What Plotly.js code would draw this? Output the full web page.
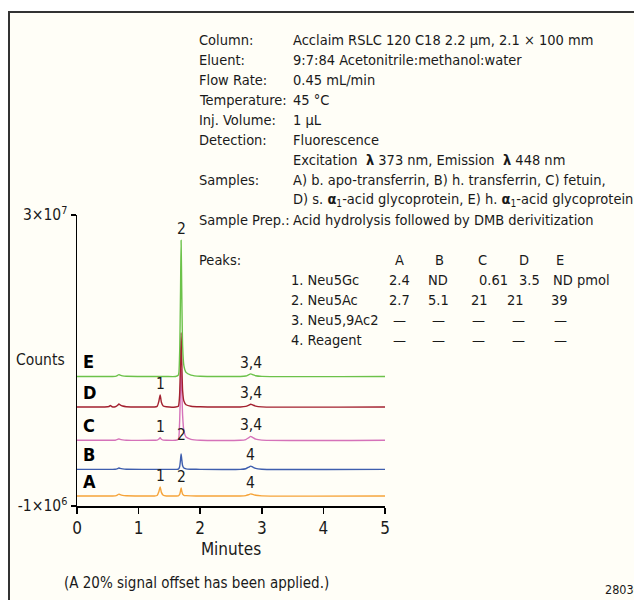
<!DOCTYPE html>
<html>
<head>
<meta charset="utf-8">
<script src="https://cdn.plot.ly/plotly-3.0.1.min.js"></script>
<style>html,body{margin:0;padding:0;background:#fff;}#chart{width:634px;height:600px;}</style>
</head>
<body>
<div id="chart"></div>
<script>
// ---------------- DATA ----------------
// retention time axis (minutes)
var times = [0.00,0.45,0.52,0.54,0.57,0.62,0.66,0.68,0.70,0.74,0.80,1.25,1.30,1.33,1.35,1.37,1.40,1.45,
             1.60,1.645,1.665,1.68,1.69,1.70,1.715,1.735,1.77,1.85,2.00,2.65,2.74,2.79,2.82,2.85,2.90,3.00,5.00];
// signals (x10^6 counts) above each trace's own baseline
var sigA = [0,0,0,0,0,0.01,0.12,0.20,0.14,0.06,0.02,0,0.05,0.48,0.96,0.38,0.08,0,
            0,0.01,0.13,0.50,0.85,0.55,0.19,0.07,0.03,0.01,0,0,0.04,0.15,0.22,0.17,0.07,0.01,0];
var sigB = [0,0,0,0,0,0.01,0.09,0.15,0.10,0.05,0.01,0,0,0,0,0,0,0,
            0,0.02,0.25,1.00,1.65,1.10,0.38,0.14,0.05,0.02,0,0,0.07,0.25,0.35,0.26,0.10,0.02,0];
var sigC = [0,0,0,0,0,0.01,0.09,0.15,0.10,0.05,0.01,0,0.01,0.13,0.27,0.11,0.02,0,
            0,0.10,1.80,5.40,7.60,5.80,2.60,1.00,0.35,0.10,0,0,0.08,0.29,0.42,0.32,0.13,0.02,0];
var sigD = [0,0,0.05,0.15,0.02,0.02,0.19,0.32,0.22,0.10,0.03,0,0.06,0.64,1.28,0.51,0.10,0.02,
            0,0.08,1.20,4.70,7.90,5.10,1.70,0.63,0.24,0.08,0.02,0,0.06,0.20,0.29,0.22,0.09,0.01,0];
var sigE = [0,0,0,0,0,0.01,0.12,0.20,0.14,0.06,0.02,0,0,0,0,0,0,0,
            0,0.15,2.20,8.70,14.50,9.40,3.20,1.16,0.44,0.15,0.02,0,0.05,0.19,0.27,0.20,0.08,0.01,0];
var sampleNames = ['A','B','C','D','E'];
// applied signal offsets (x10^6 counts)
var offsets = [0.07, 2.90, 6.00, 9.55, 12.80];
var traceColors = ['#f6a43a','#3e5eae','#d572b9','#a3202f','#6cc24a'];

// peak labels: [sample index, retention time, label]
var peakLabels = [
  [4,1.69,'2'],[4,2.82,'3,4'],
  [3,1.35,'1'],[3,2.82,'3,4'],
  [2,1.35,'1'],[2,2.82,'3,4'],
  [1,1.69,'2'],[1,2.82,'4'],
  [0,1.35,'1'],[0,1.69,'2'],[0,2.82,'4']
];

// conditions text
var condLabels = ['Column:','Eluent:','Flow Rate:','Temperature:','Inj. Volume:','Detection:','','Samples:','','Sample Prep.:'];
var condValues = ['Acclaim RSLC 120 C18 2.2 µm, 2.1 × 100 mm',
                  '9:7:84 Acetonitrile:methanol:water',
                  '0.45 mL/min',
                  '45 °C',
                  '1 µL',
                  'Fluorescence',
                  'Excitation  <b>λ</b> 373 nm, Emission  <b>λ</b> 448 nm',
                  'A) b. apo-transferrin, B) h. transferrin, C) fetuin,',
                  'D) s. <b>α</b><sub>1</sub>-acid glycoprotein, E) h. <b>α</b><sub>1</sub>-acid glycoprotein',
                  'Acid hydrolysis followed by DMB derivitization'];
var peakNames = ['1. Neu5Gc','2. Neu5Ac','3. Neu5,9Ac2','4. Reagent'];
var amounts = [
  ['2.4','ND','0.61','3.5','ND pmol'],
  ['2.7','5.1','21','21','39'],
  ['—','—','—','—','—'],
  ['—','—','—','—','—']
];
var yTickVals = [-1e6, 3e7];
var yTickText = ['-1×10<sup>6</sup>','3×10<sup>7</sup>'];
var xTickVals = [0,1,2,3,4,5];

// ---------------- LAYOUT HELPERS ----------------
var W = 634, H = 600, L = 77, R = 249, T = 215, B = 94;
var PW = W - L - R, PH = H - T - B;
function px(x){ return (x - L) / PW; }
function py(y){ return (H - B - y) / PH; }
var FONT = '"DejaVu Sans Condensed", "Liberation Sans Narrow", sans-serif';
var TXT = '#1a1a1a';
var TS = 14.5;

var sigs = [sigA, sigB, sigC, sigD, sigE];
var traces = sigs.map(function(s, i){
  return {
    x: times,
    y: s.map(function(v){ return (v + offsets[i]) * 1e6; }),
    type: 'scatter', mode: 'lines',
    line: {color: traceColors[i], width: 1.4, shape: 'spline', smoothing: 0.6},
    hoverinfo: 'skip', showlegend: false, name: sampleNames[i]
  };
});

var ann = [];
function addText(x, y, text, opts){
  var a = {xref:'paper', yref:'paper', x:px(x), y:py(y), text:text, showarrow:false,
           xanchor:'left', yanchor:'middle', font:{family:FONT, size:TS, color:TXT}};
  for (var k in (opts||{})) a[k] = opts[k];
  ann.push(a);
}
// conditions
for (var i = 0; i < condLabels.length; i++){
  var yy = 40 + 20*i;
  if (condLabels[i]) addText(197, yy, condLabels[i]);
  addText(291, yy, condValues[i]);
}
// peaks table
addText(197, 260, 'Peaks:');
var headCenters = [399, 439, 482, 524, 560];
for (var j = 0; j < 5; j++) addText(headCenters[j], 260, sampleNames[j], {xanchor:'center'});
var cellCenters = [
  [399, 438, 493, 529, 551],
  [399, 438, 479, 515, 559],
  [399, 438, 478, 518, 560],
  [399, 438, 478, 518, 560]
];
for (var r = 0; r < peakNames.length; r++){
  var yr = 280 + 20*r;
  addText(289, yr, peakNames[r]);
  for (var c = 0; c < 5; c++){
    if (r === 0 && c === 4) addText(cellCenters[r][c], yr, amounts[r][c]);
    else addText(cellCenters[r][c], yr, amounts[r][c], {xanchor:'center'});
  }
}
// sample letters on traces
for (var s2 = 0; s2 < 5; s2++){
  ann.push({xref:'x', yref:'y', x:0.06, y:offsets[s2]*1e6, text:'<b>'+sampleNames[s2]+'</b>',
    showarrow:false, xanchor:'left', yanchor:'bottom', yshift:2,
    font:{family:FONT, size:18, color:'#000'}});
}
// peak number labels
peakLabels.forEach(function(p){
  var si = p[0], idx = times.indexOf(p[1]);
  var v = (sigs[si][idx] + offsets[si]) * 1e6;
  var shift = (si === 1 && p[2] === '2') ? 8 : 0;
  ann.push({xref:'x', yref:'y', x:p[1], y:v, text:p[2], showarrow:false,
    xanchor:'center', yanchor:'bottom', yshift:shift, font:{family:FONT, size:15.5, color:TXT}});
});
// side texts
addText(67, 360, 'Counts', {xanchor:'right', font:{family:FONT, size:15.5, color:TXT}});
addText(62, 583, '(A 20% signal offset has been applied.)', {xanchor:'left', font:{family:FONT, size:15, color:TXT}});
addText(603, 589, '28030', {xanchor:'left', font:{family:FONT, size:12.5, color:TXT}});

var layout = {
  width: W, height: H,
  margin: {l:L, r:R, t:T, b:B, pad:0},
  paper_bgcolor: '#ffffff',
  plot_bgcolor: 'rgba(0,0,0,0)',
  font: {family: FONT, size: 16, color: TXT},
  showlegend: false,
  xaxis: {
    range: [0, 5], tickvals: xTickVals, ticks: 'outside', ticklen: 6, tickwidth: 1.5, tickcolor: '#000',
    showline: true, linewidth: 1.5, linecolor: '#000', showgrid: false, zeroline: false,
    tickfont: {family: FONT, size: 17, color: TXT},
    title: {text: 'Minutes', font: {family: FONT, size: 17, color: TXT}, standoff: 6},
    fixedrange: true
  },
  yaxis: {
    range: [-1e6, 3e7], tickvals: yTickVals, ticktext: yTickText, ticks: 'outside', ticklen: 5, tickwidth: 1.5,
    tickcolor: '#000', showline: true, linewidth: 1.5, linecolor: '#000', showgrid: false, zeroline: false,
    tickfont: {family: FONT, size: 15.5, color: TXT}, fixedrange: true
  },
  shapes: [{
    type: 'rect', xref: 'paper', yref: 'paper', layer: 'below',
    x0: px(9), x1: px(660), y0: py(640), y1: py(12),
    fillcolor: '#fffef7', line: {color: '#333333', width: 2}
  }],
  annotations: ann
};

Plotly.newPlot('chart', traces, layout, {displayModeBar: false, staticPlot: true});
</script>
</body>
</html>
